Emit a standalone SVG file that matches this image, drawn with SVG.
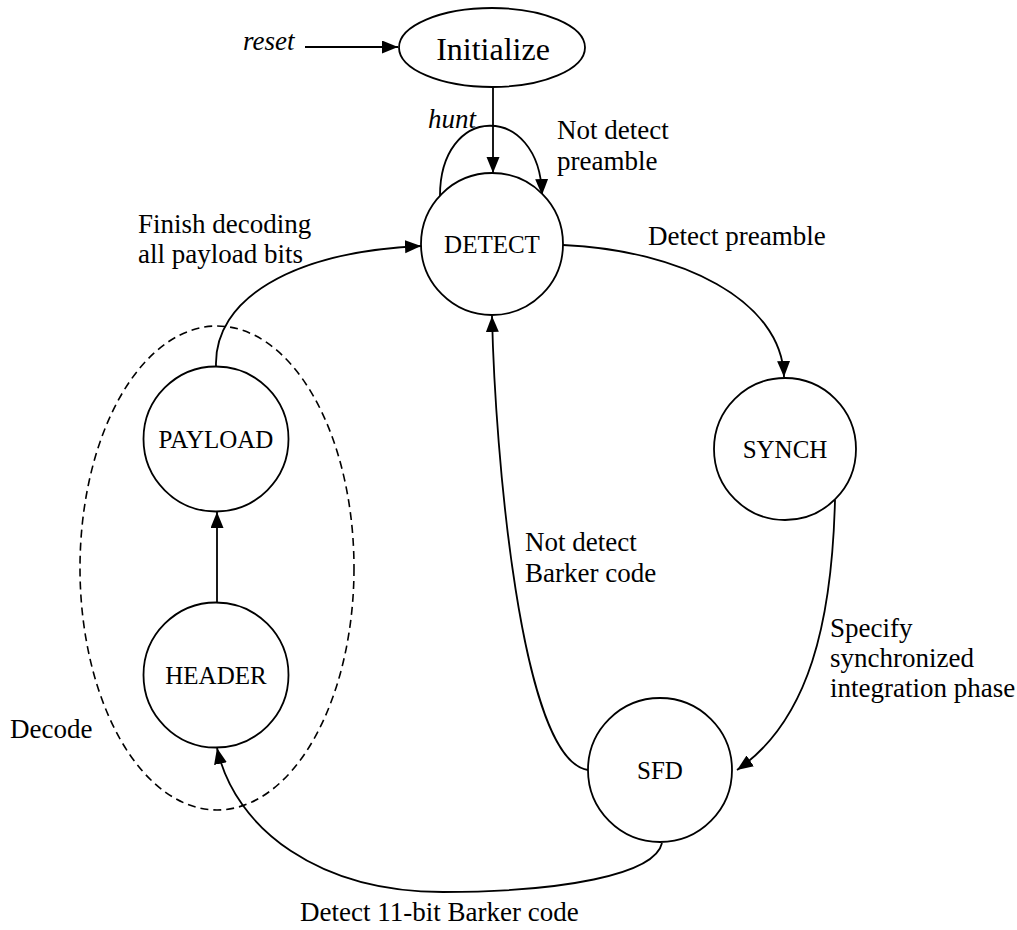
<svg xmlns="http://www.w3.org/2000/svg" width="1017" height="930" viewBox="0 0 1017 930">
  <style>
    .st { fill: #fff; stroke: #000; stroke-width: 1.8; }
    .nt { font-family: "Liberation Serif", "Times New Roman", serif; font-size: 25px; text-anchor: middle; fill: #000; }
    .lb { font-family: "Liberation Serif", "Times New Roman", serif; font-size: 27px; fill: #000; }
    .it { font-style: italic; }
    .cn { fill: none; stroke: #000; stroke-width: 1.8; }
    .grp { fill: none; stroke: #000; stroke-width: 1.6; stroke-dasharray: 8 5; }
  </style>
  <defs>
    <marker id="arrow" markerUnits="userSpaceOnUse" markerWidth="17" markerHeight="14" refX="16" refY="6.5" orient="auto">
      <path d="M0,0 L16,6.5 L0,13 z" fill="#000"/>
    </marker>
  </defs>

  <rect width="1017" height="930" fill="#fff"/>

  <!-- Decode group boundary -->
  <g id="decode-group">
    <ellipse class="grp" cx="217" cy="568" rx="137" ry="242"/>
    <text class="lb" x="10" y="738">Decode</text>
  </g>

  <!-- transitions -->
  <g id="connectors">
    <path class="cn" d="M305,47 L398,47" marker-end="url(#arrow)"/>
    <path class="cn" d="M493,87 L493,173" marker-end="url(#arrow)"/>
    <path class="cn" d="M440,199 C438,102 540,102 542,195" marker-end="url(#arrow)"/>
    <path class="cn" d="M563,245 C680,250 782,300 784,377" marker-end="url(#arrow)"/>
    <path class="cn" d="M835,500 C832,620 810,720 737,770" marker-end="url(#arrow)"/>
    <path class="cn" d="M588,770 C520,760 495,450 492,316" marker-end="url(#arrow)"/>
    <path class="cn" d="M662,843 C655,875 560,892 443,892 C320,892 235,830 217,748" marker-end="url(#arrow)"/>
    <path class="cn" d="M217,603 L217,512" marker-end="url(#arrow)"/>
    <path class="cn" d="M216,366 C214,300 290,252 421,246" marker-end="url(#arrow)"/>
  </g>

  <!-- transition labels -->
  <g id="labels">
    <text class="lb it" x="243" y="50">reset</text>
    <text class="lb it" x="428" y="128">hunt</text>
    <text class="lb" x="557" y="139">Not detect</text>
    <text class="lb" x="557" y="170">preamble</text>
    <text class="lb" x="138" y="233">Finish decoding</text>
    <text class="lb" x="138" y="263">all payload bits</text>
    <text class="lb" x="648" y="245">Detect preamble</text>
    <text class="lb" x="525" y="551">Not detect</text>
    <text class="lb" x="525" y="582">Barker code</text>
    <text class="lb" x="830" y="637">Specify</text>
    <text class="lb" x="830" y="667">synchronized</text>
    <text class="lb" x="830" y="697">integration phase</text>
    <text class="lb" x="300" y="921">Detect 11-bit Barker code</text>
  </g>

  <!-- states -->
  <g id="initialize">
    <ellipse class="st" cx="492" cy="47.5" rx="93" ry="39.5"/>
    <text class="nt" x="493" y="60" style="font-size:32px">Initialize</text>
  </g>
  <g id="detect">
    <circle class="st" cx="492" cy="244" r="71"/>
    <text class="nt" x="492" y="253">DETECT</text>
  </g>
  <g id="synch">
    <circle class="st" cx="785" cy="449" r="71"/>
    <text class="nt" x="785" y="458">SYNCH</text>
  </g>
  <g id="sfd">
    <circle class="st" cx="660" cy="770" r="72"/>
    <text class="nt" x="660" y="779">SFD</text>
  </g>
  <g id="payload">
    <circle class="st" cx="216" cy="439" r="72.5"/>
    <text class="nt" x="216" y="448">PAYLOAD</text>
  </g>
  <g id="header">
    <circle class="st" cx="216" cy="675" r="72.5"/>
    <text class="nt" x="216" y="684">HEADER</text>
  </g>
</svg>
